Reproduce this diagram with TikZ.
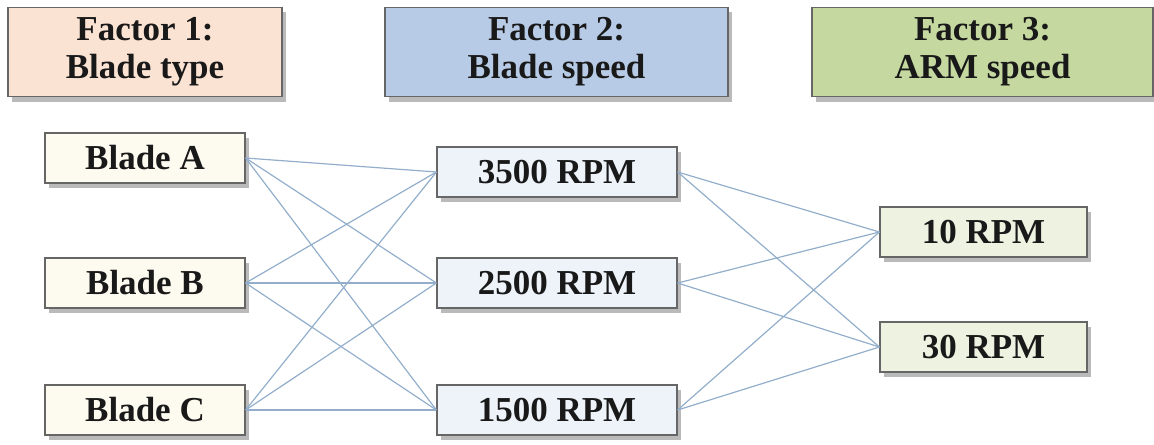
\documentclass[tikz,border=0pt]{standalone}
\usepackage{fontspec}
\setmainfont{Liberation Serif}
\usetikzlibrary{shadows}

\definecolor{peach}{HTML}{FBE3D3}
\definecolor{skyblue}{HTML}{B7CBE6}
\definecolor{leafgreen}{HTML}{C4D8A0}
\definecolor{cream}{HTML}{FDFAF0}
\definecolor{paleblue}{HTML}{EEF3FA}
\definecolor{palegreen}{HTML}{EEF2E1}
\definecolor{linkblue}{HTML}{93AECB}

\tikzset{
  box/.style={draw=gray!80!black,line width=0.6pt,inner sep=0pt,
    font=\fontsize{17.5}{19}\selectfont\bfseries,text=black!90,align=center,
    drop shadow={shadow xshift=2pt,shadow yshift=-2.5pt,opacity=0.45,fill=black!60}},
  factor/.style={box,minimum height=44.5pt},
  level/.style={box,minimum height=25pt},
  link/.style={linkblue,line width=0.6pt}
}

\begin{document}
\begin{tikzpicture}[x=0.5pt,y=-0.5pt]
\useasboundingbox (0,0) rectangle (1154,444);
%Factor headers
    \node[factor,fill=peach,minimum width=137pt] (f1) at (145,52) {Factor 1:\\Blade type};
    \node[factor,fill=skyblue,minimum width=171.5pt] (f2) at (556.5,52) {Factor 2:\\Blade speed};
    \node[factor,fill=leafgreen,minimum width=170.5pt] (f3) at (982.5,52) {Factor 3:\\ARM speed};
%Levels of each factor
    \node[level,fill=cream,minimum width=100pt] (bladeA) at (145,158) {Blade A};
    \node[level,fill=cream,minimum width=100pt] (bladeB) at (145,283) {Blade B};
    \node[level,fill=cream,minimum width=100pt] (bladeC) at (145,410) {Blade C};
    \node[level,fill=paleblue,minimum width=120pt] (s3500) at (557,172) {3500 RPM};
    \node[level,fill=paleblue,minimum width=120pt] (s2500) at (557,283) {2500 RPM};
    \node[level,fill=paleblue,minimum width=120pt] (s1500) at (557,410) {1500 RPM};
    \node[level,fill=palegreen,minimum width=103.5pt] (arm10) at (983.5,232) {10 RPM};
    \node[level,fill=palegreen,minimum width=103.5pt] (arm30) at (983.5,347) {30 RPM};
%Every blade type with every blade speed, every blade speed with every ARM speed
    \foreach \blade in {bladeA,bladeB,bladeC}
        \foreach \speed in {s3500,s2500,s1500}
            \draw[link] (\blade.east) -- (\speed.west);
    \foreach \speed in {s3500,s2500,s1500}
        \foreach \arm in {arm10,arm30}
            \draw[link] (\speed.east) -- (\arm.west);
\end{tikzpicture}
\end{document}
